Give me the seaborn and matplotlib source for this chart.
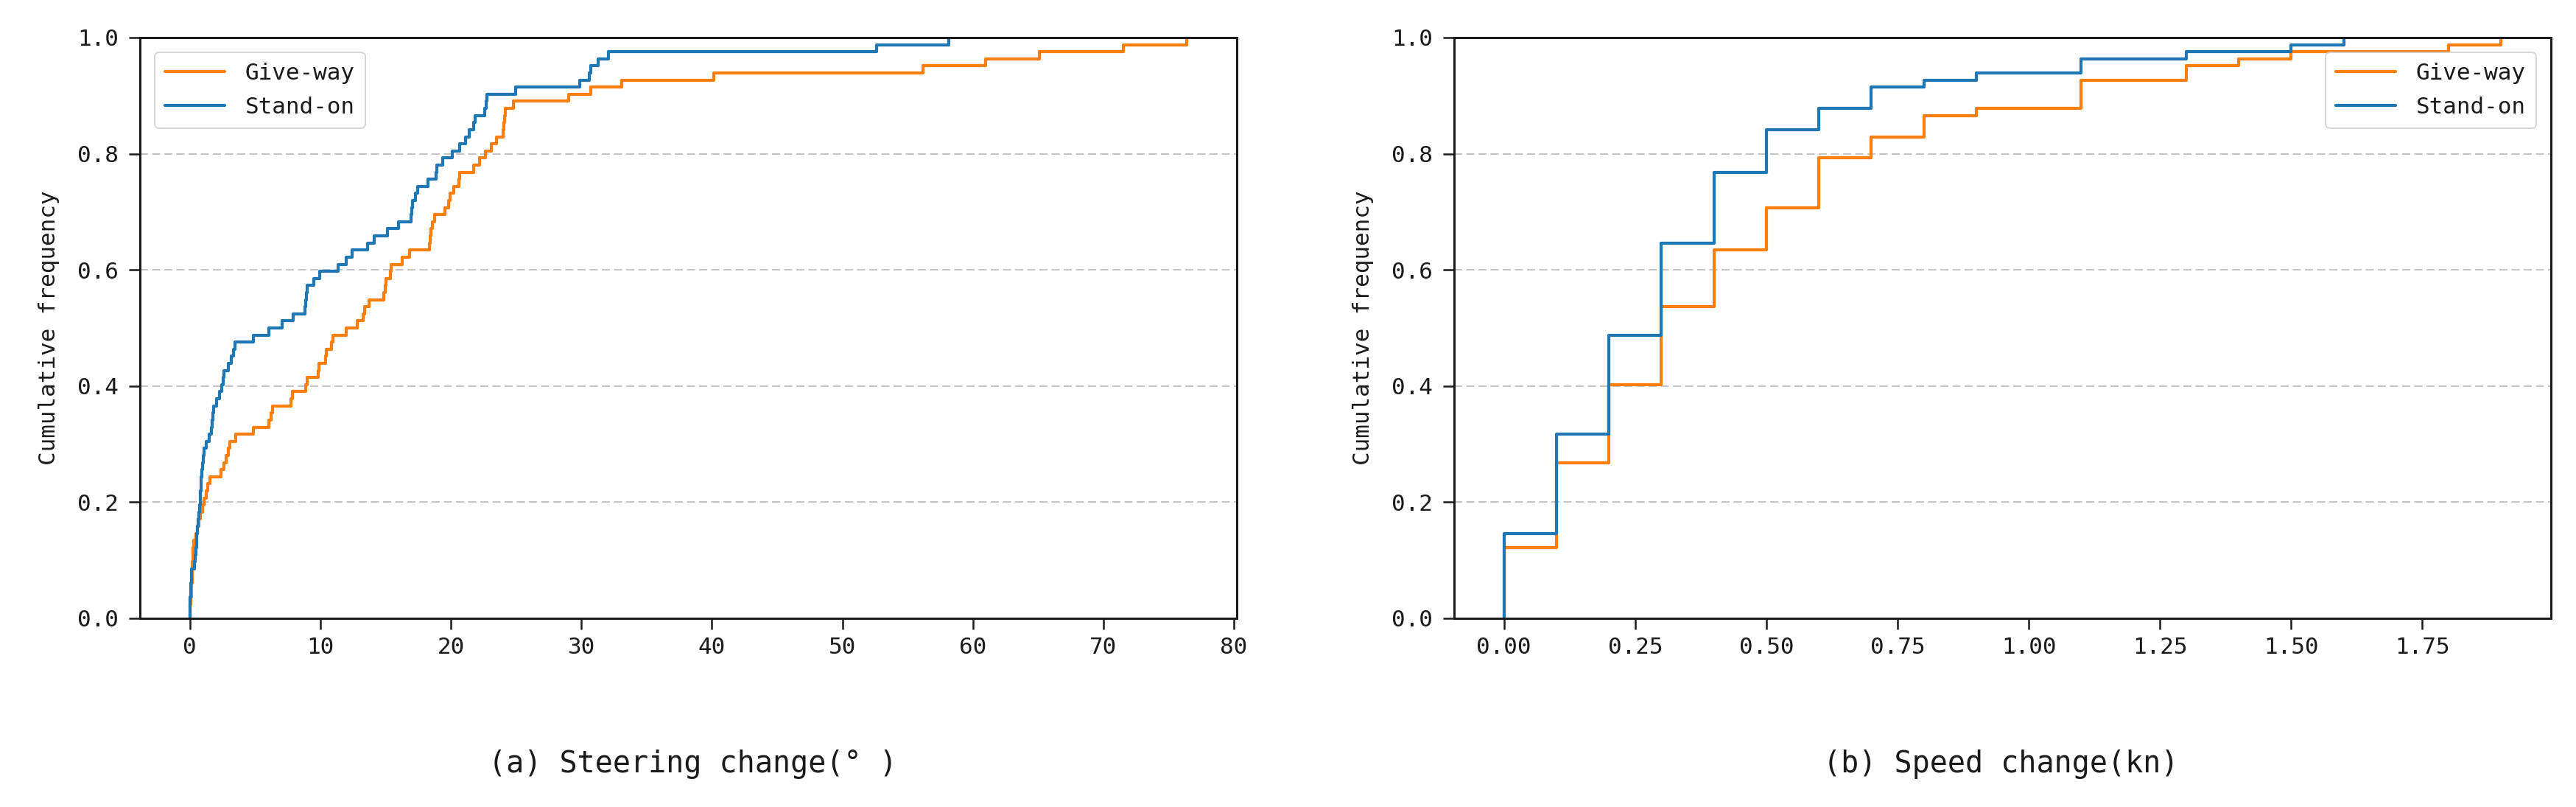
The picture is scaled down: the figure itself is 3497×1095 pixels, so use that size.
import matplotlib
matplotlib.use("Agg")
import numpy as np
import pandas as pd
import matplotlib.pyplot as plt
import seaborn as sns

# ---------------- data ----------------
series_names = ["Give-way", "Stand-on"]
series_colors = ["#ff7f0e", "#1f77b4"]

# (a) steering change in degrees, one value per vessel
steer_give_way = [
    0.0, 0.0, 0.05, 0.12, 0.15, 0.17, 0.19, 0.21, 0.23, 0.25,
    0.3, 0.45, 0.6, 0.7, 0.8, 0.95, 1.1, 1.25, 1.4, 1.55,
    2.41, 2.6, 2.78, 2.97, 3.07, 3.53, 4.9, 6.07, 6.2, 6.35,
    7.75, 7.85, 8.88, 8.98, 9.82, 9.92, 10.38, 10.48, 10.85, 10.95,
    11.98, 12.82, 13.29, 13.39, 13.76, 14.88, 14.95, 15.02, 15.35, 15.45,
    16.25, 16.85, 18.35, 18.42, 18.5, 18.58, 18.73, 19.57, 19.85, 19.95,
    20.2, 20.6, 20.7, 21.73, 22.2, 22.67, 23.1, 23.5, 23.98, 24.05,
    24.12, 24.2, 24.82, 29.04, 30.73, 33.1, 40.13, 56.17, 60.96, 65.08,
    71.55, 76.4,
]
steer_stand_on = [
    0.0, 0.0, 0.0, 0.05, 0.1, 0.12, 0.15, 0.345, 0.42, 0.47,
    0.5, 0.53, 0.58, 0.66, 0.7, 0.75, 0.78, 0.81, 0.84, 0.88,
    0.92, 1.0, 1.05, 1.1, 1.28, 1.47, 1.66, 1.72, 1.77, 1.81,
    2.03, 2.3, 2.45, 2.55, 2.62, 2.97, 3.2, 3.33, 3.44, 4.85,
    6.07, 7.1, 7.9, 8.85, 8.88, 8.92, 8.97, 9.5, 9.95, 11.38,
    11.98, 12.44, 13.6, 14.1, 15.17, 15.98, 16.95, 17.0, 17.05, 17.3,
    17.45, 18.25, 18.85, 18.92, 19.4, 20.1, 20.7, 21.1, 21.4, 21.75,
    21.85, 22.6, 22.7, 22.78, 24.97, 29.85, 30.6, 30.7, 31.3, 32.1,
    52.63, 58.13,
]

# (b) speed change in knots: distinct values and number of vessels at each
speed_values = [0.0, 0.1, 0.2, 0.3, 0.4, 0.5, 0.6, 0.7, 0.8, 0.9,
                1.1, 1.3, 1.4, 1.5, 1.6, 1.8, 1.9]
speed_give_way_counts = [10, 12, 11, 11, 8, 6, 7, 3, 3, 1,
                         4, 2, 1, 1, 0, 1, 1]
speed_stand_on_counts = [12, 14, 14, 13, 10, 6, 3, 3, 1, 1,
                         2, 1, 0, 1, 1, 0, 0]

y_ticks = [0.0, 0.2, 0.4, 0.6, 0.8, 1.0]
y_label = "Cumulative frequency"
caption_a = "(a) Steering change(° )"
caption_b = "(b) Speed change(kn)"

# ---------------- style ----------------
sns.set_style("ticks")
plt.rcParams["font.family"] = ["DejaVu Sans Mono", "DejaVu Sans"]
plt.rcParams.update({
    "axes.edgecolor": "#1a1a1a",
    "axes.linewidth": 3,
    "xtick.color": "#1a1a1a",
    "ytick.color": "#1a1a1a",
    "xtick.major.size": 15,
    "ytick.major.size": 15,
    "xtick.major.width": 2.5,
    "ytick.major.width": 2.5,
    "xtick.major.pad": 10,
    "ytick.major.pad": 14,
    "xtick.labelsize": 31,
    "ytick.labelsize": 31,
    "axes.labelsize": 31,
    "text.color": "#1a1a1a",
    "axes.labelcolor": "#1a1a1a",
    "xtick.direction": "out",
    "ytick.direction": "out",
})

W, H, DPI = 3497, 1095, 72
fig = plt.figure(figsize=(W / DPI, H / DPI), dpi=DPI)
ax_l, ax_b, ax_w, ax_h = 190 / W, 1 - 839 / H, 1489 / W, 788 / H
ax1 = fig.add_axes([ax_l, ax_b, ax_w, ax_h])
ax2 = fig.add_axes([1974 / W, ax_b, ax_w, ax_h])

# left: steering change ECDFs
steer_df = pd.concat([
    pd.DataFrame({"value": steer_give_way, "group": series_names[0]}),
    pd.DataFrame({"value": steer_stand_on, "group": series_names[1]}),
], ignore_index=True)

# right: speed change ECDFs (weighted by vessel counts)
speed_df = pd.concat([
    pd.DataFrame({"value": speed_values, "count": speed_give_way_counts,
                  "group": series_names[0]}),
    pd.DataFrame({"value": speed_values, "count": speed_stand_on_counts,
                  "group": series_names[1]}),
], ignore_index=True)
speed_df = speed_df[speed_df["count"] > 0]

for name, color in zip(series_names, series_colors):
    sub = steer_df[steer_df["group"] == name]
    sns.ecdfplot(data=sub, x="value", ax=ax1, color=color, linewidth=4.2,
                 label=name)
    sub2 = speed_df[speed_df["group"] == name]
    sns.ecdfplot(data=sub2, x="value", weights="count", ax=ax2, color=color,
                 linewidth=4.2, label=name)

for ax, loc in ((ax1, "upper left"), (ax2, "upper right")):
    ax.set_ylim(0, 1)
    ax.set_yticks(y_ticks)
    ax.set_xlabel("")
    ax.set_ylabel(y_label, labelpad=24)
    ax.set_axisbelow(True)
    ax.yaxis.grid(True, linestyle=(0, (5.5, 2.75)), color="#c4c4c4",
                  linewidth=2)
    ax.xaxis.grid(False)
    for sp in ax.spines.values():
        sp.set_visible(True)
        sp.set_linewidth(3)
        sp.set_color("#1a1a1a")
    leg = ax.legend(loc=loc, fontsize=31, frameon=True, handlelength=2.6,
                    handletextpad=0.9, labelspacing=0.55, borderpad=0.45,
                    borderaxespad=0.65, fancybox=True, framealpha=0.8)
    leg.get_frame().set_edgecolor("#cccccc")
    leg.get_frame().set_linewidth(2)
    for line in leg.get_lines():
        line.set_linewidth(4.2)

fig.text(940 / W, 1 - 1037 / H, caption_a, ha="center", va="center",
         fontsize=40)
fig.text(2716 / W, 1 - 1037 / H, caption_b, ha="center", va="center",
         fontsize=40)

fig.savefig("out.png", dpi=DPI, facecolor="white")
